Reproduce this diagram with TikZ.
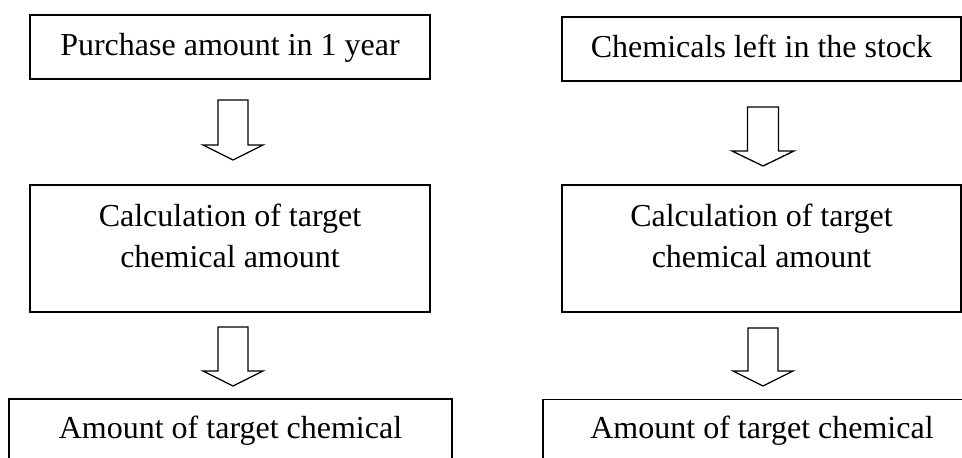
\documentclass[tikz,border=0pt]{standalone}
\usepackage{fontspec}
\setmainfont{Liberation Serif}
\begin{document}
\begin{tikzpicture}[
  x=1pt, y=-1pt,
  stepbox/.style={draw=black, line width=1.6pt, rectangle, inner sep=0pt},
  lbl/.style={anchor=base, inner sep=0pt, font=\fontsize{32}{41}\selectfont},
  pics/downarrow/.style n args={4}{code={
    % hollow block arrow: shaft half-width, head half-width, shoulder depth, tip depth
    \draw[line width=1.3pt, line join=miter]
      (-#1,0) -- (#1,0) -- (#1,#3) -- (#2,#3) -- (0,#4)
      -- (-#2,#3) -- (-#1,#3) -- cycle;
  }}
]
\fill[white] (0,0) rectangle (962,458);
\clip (0,0) rectangle (962,458);

% left column
\node[stepbox, minimum width=400pt, minimum height=64pt] (buy) at (230,47) {};
\node[lbl] (buyT) at (230,55) {Purchase amount in 1 year};

\coordinate (arrL1) at (233,100);
\pic at (arrL1) {downarrow={15}{30}{45}{60}};

\node[stepbox, minimum width=400pt, minimum height=127pt] (calcL) at (230,248.5) {};
\node[lbl] (calcLa) at (230,226) {Calculation of target};
\node[lbl] (calcLb) at (230,267) {chemical amount};

\coordinate (arrL2) at (233,327);
\pic at (arrL2) {downarrow={15}{30}{44}{59}};

\node[stepbox, minimum width=443pt, minimum height=90pt] (amtL) at (230.5,444) {};
\node[lbl] (amtLT) at (230.5,438) {Amount of target chemical};

% right column
\node[stepbox, minimum width=399pt, minimum height=64pt] (stock) at (761.5,49) {};
\node[lbl] (stockT) at (761.5,57) {Chemicals left in the stock};

\coordinate (arrR1) at (763,107);
\pic at (arrR1) {downarrow={15.5}{31}{44}{59}};

\node[stepbox, minimum width=399pt, minimum height=127pt] (calcR) at (761.5,248.5) {};
\node[lbl] (calcRa) at (761.5,226) {Calculation of target};
\node[lbl] (calcRb) at (761.5,267) {chemical amount};

\coordinate (arrR2) at (763,328);
\pic at (arrR2) {downarrow={15}{30}{43}{58}};

\node[stepbox, minimum width=438pt, minimum height=90pt] (amtR) at (762,444.5) {};
\node[lbl] (amtRT) at (762,438) {Amount of target chemical};
\end{tikzpicture}
\end{document}
